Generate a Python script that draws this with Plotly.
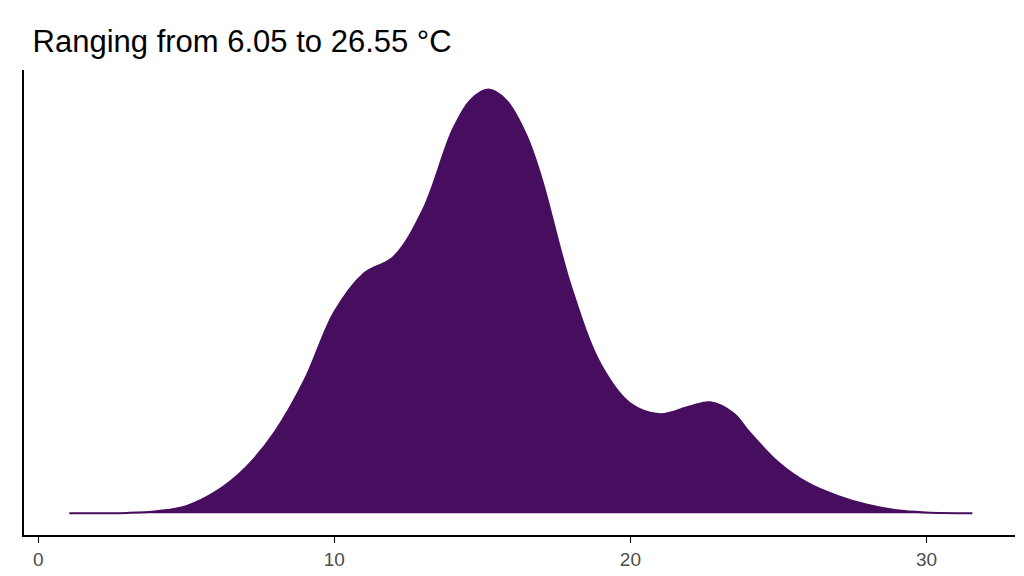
import plotly.graph_objects as go

temp = [1.05, 3, 4, 5, 6, 7, 8, 9, 10, 11, 12, 13, 14, 14.6, 15.2, 15.8, 16.5, 17, 18, 19, 20, 21, 22, 22.7, 23.5, 24, 25, 26, 27, 28, 29, 30, 31.55]
density = [0.0, 0.0001, 0.0005, 0.0017, 0.0051, 0.0107, 0.0193, 0.0315, 0.0475, 0.0566, 0.0605, 0.0717, 0.0905, 0.0975, 0.1, 0.0975, 0.089, 0.079, 0.0534, 0.0351, 0.0259, 0.0234, 0.0252, 0.0262, 0.0235, 0.0193, 0.012, 0.0071, 0.0041, 0.002, 0.0007, 0.0002, 0.0]
xticks = [0, 10, 20, 30]

fig = go.Figure(go.Scatter(x=temp, y=density, mode="lines", fill="tozeroy",
                           line=dict(color="#470E5F", width=2, shape="spline", smoothing=1.0),
                           fillcolor="#470E5F", hoverinfo="skip"))
fig.update_layout(
    width=1024, height=576, margin=dict(l=16, r=17, t=62, b=49),
    plot_bgcolor="white", paper_bgcolor="white", showlegend=False,
    font=dict(family="Liberation Sans, Arial, sans-serif"),
    title=dict(text="Ranging from 6.05 to 26.55 °C", x=0.024, xanchor="left", y=0.943, yanchor="middle",
               font=dict(size=31, color="black")),
    xaxis=dict(range=[-0.48, 32.99], tickvals=xticks, showgrid=False, zeroline=False, automargin=False,
               showline=True, linecolor="black", linewidth=2, ticks="outside", ticklen=6,
               tickcolor="black", tickfont=dict(size=19, color="#4D4D4D")),
    yaxis=dict(range=[-0.00512, 0.1046], showticklabels=False, showgrid=False, zeroline=False, automargin=False,
               showline=True, linecolor="black", linewidth=2, ticks=""),
)
fig.write_html("out.html")
